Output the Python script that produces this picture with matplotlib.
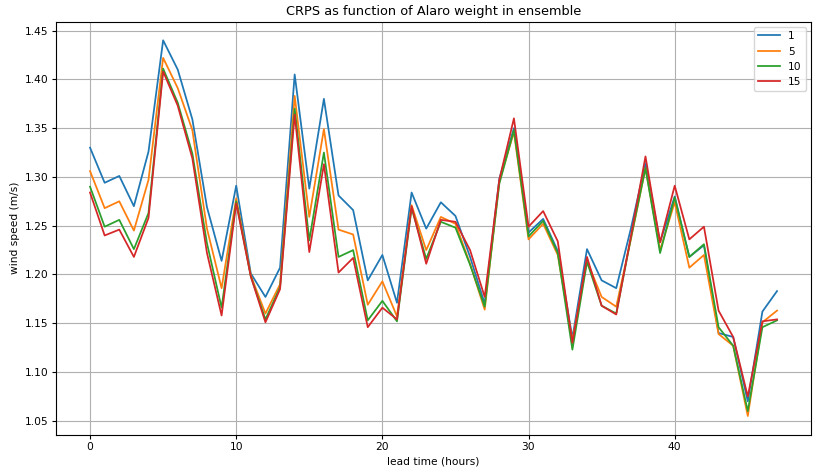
import numpy as np
import matplotlib
matplotlib.use("Agg")
import matplotlib.pyplot as plt

lead_times = np.arange(48)

# CRPS per lead time, one list per Alaro weight
crps_w1 = [1.330, 1.294, 1.301, 1.270, 1.326, 1.440, 1.410, 1.359, 1.269, 1.214,
           1.291, 1.201, 1.177, 1.207, 1.405, 1.288, 1.380, 1.281, 1.266, 1.194,
           1.220, 1.171, 1.284, 1.247, 1.274, 1.260, 1.218, 1.170, 1.298, 1.350,
           1.243, 1.257, 1.224, 1.135, 1.226, 1.194, 1.186, 1.247, 1.314, 1.233,
           1.280, 1.218, 1.230, 1.140, 1.136, 1.070, 1.162, 1.183]
crps_w5 = [1.306, 1.268, 1.275, 1.245, 1.297, 1.422, 1.391, 1.348, 1.247, 1.186,
           1.278, 1.199, 1.160, 1.190, 1.383, 1.259, 1.349, 1.246, 1.241, 1.169,
           1.193, 1.157, 1.271, 1.225, 1.259, 1.252, 1.211, 1.164, 1.295, 1.346,
           1.236, 1.252, 1.220, 1.132, 1.214, 1.177, 1.167, 1.236, 1.309, 1.225,
           1.274, 1.207, 1.220, 1.139, 1.127, 1.055, 1.151, 1.163]
crps_w10 = [1.290, 1.249, 1.256, 1.226, 1.263, 1.411, 1.376, 1.324, 1.232, 1.166,
            1.275, 1.198, 1.154, 1.187, 1.370, 1.235, 1.325, 1.218, 1.225, 1.153,
            1.173, 1.152, 1.268, 1.216, 1.254, 1.248, 1.210, 1.167, 1.293, 1.348,
            1.239, 1.255, 1.222, 1.123, 1.213, 1.168, 1.160, 1.237, 1.309, 1.222,
            1.279, 1.218, 1.231, 1.146, 1.127, 1.060, 1.146, 1.153]
crps_w15 = [1.284, 1.240, 1.246, 1.218, 1.258, 1.408, 1.373, 1.319, 1.222, 1.158,
            1.273, 1.198, 1.151, 1.185, 1.364, 1.223, 1.313, 1.202, 1.217, 1.146,
            1.166, 1.154, 1.270, 1.211, 1.256, 1.254, 1.225, 1.177, 1.297, 1.360,
            1.249, 1.265, 1.234, 1.130, 1.218, 1.168, 1.159, 1.239, 1.321, 1.233,
            1.291, 1.236, 1.249, 1.163, 1.136, 1.075, 1.152, 1.154]

weights = ["1", "5", "10", "15"]

# the original looks like a smaller render scaled up, so shrink text and pads
scale = 0.77
plt.rcParams.update({
    "font.size": 10 * scale,
    "lines.linewidth": 1.5 * 0.85,
    "xtick.major.pad": 3.5 * scale,
    "ytick.major.pad": 3.5 * scale,
    "xtick.major.size": 3.5 * scale,
    "ytick.major.size": 3.5 * scale,
    "axes.labelpad": 4 * scale,
    "axes.titlepad": 6 * scale,
})

fig, ax = plt.subplots(figsize=(8.13, 4.68), dpi=100)
fig.subplots_adjust(left=0.0685, right=0.998, top=0.954, bottom=0.071)

for label, values in zip(weights, [crps_w1, crps_w5, crps_w10, crps_w15]):
    ax.plot(lead_times, values, label=label)

ax.set_title("CRPS as function of Alaro weight in ensemble")
ax.set_xlabel("lead time (hours)")
ax.set_ylabel("wind speed (m/s)")
ax.grid(True)
ax.legend(loc="upper right")

fig.savefig("out.png", dpi=100)
